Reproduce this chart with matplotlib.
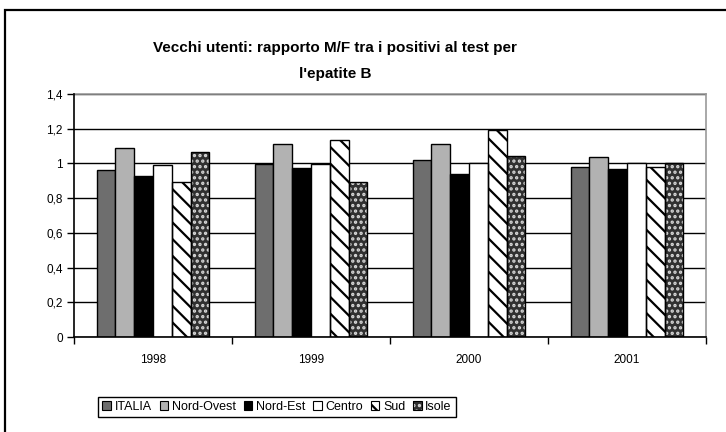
import matplotlib
matplotlib.use("Agg")
import matplotlib.pyplot as plt
import numpy as np
from matplotlib.patches import Rectangle

plt.rcParams['font.family'] = ['Liberation Sans', 'DejaVu Sans']
plt.rcParams['hatch.linewidth'] = 1.6

# Data
years = ['1998', '1999', '2000', '2001']
series = ['ITALIA', 'Nord-Ovest', 'Nord-Est', 'Centro', 'Sud', 'Isole']
italia = [0.96, 0.995, 1.02, 0.98]
nord_ovest = [1.09, 1.11, 1.11, 1.035]
nord_est = [0.93, 0.975, 0.94, 0.97]
centro = [0.99, 0.995, 1.0, 1.0]
sud = [0.895, 1.135, 1.19, 0.98]
isole = [1.065, 0.895, 1.045, 1.0]
values = [italia, nord_ovest, nord_est, centro, sud, isole]

faces = ['#6e6e6e', '#b2b2b2', '#000000', '#ffffff', '#ffffff', '#303030']
hatches = [None, None, None, None, '\\\\', '...']
hatch_cols = [None, None, None, None, 'black', '#d8d8d8']

fig = plt.figure(figsize=(7.26, 4.32), dpi=100)
ax = fig.add_axes([74/726, 1-337/432, 632/726, 243/432])

x = np.arange(len(years))
w = 0.715 / len(series)
handles = []
for i, (name, vals) in enumerate(zip(series, values)):
    pos = x - 0.715/2 + w*(i + 0.5)
    if hatches[i]:
        ax.bar(pos, vals, w, color=faces[i], edgecolor=hatch_cols[i],
               hatch=hatches[i], linewidth=0, zorder=3)
        ax.bar(pos, vals, w, facecolor='none', edgecolor='black',
               linewidth=1, zorder=4)
        h = (Rectangle((0, 0), 1, 1, facecolor=faces[i], edgecolor=hatch_cols[i],
                       hatch=hatches[i], linewidth=0),
             Rectangle((0, 0), 1, 1, facecolor='none', edgecolor='black',
                       linewidth=0.8))
    else:
        ax.bar(pos, vals, w, facecolor=faces[i], edgecolor='black',
               linewidth=1, zorder=4)
        h = Rectangle((0, 0), 1, 1, facecolor=faces[i], edgecolor='black',
                      linewidth=0.8)
    handles.append(h)

ax.set_xlim(-0.5, len(years) - 0.5)
ax.set_ylim(0, 1.4)
yt = np.arange(0, 1.41, 0.2)
ax.set_yticks(yt)
ax.set_yticklabels(['0', '0,2', '0,4', '0,6', '0,8', '1', '1,2', '1,4'], fontsize=8.5)
ax.yaxis.grid(True, color='black', linewidth=1)
ax.set_axisbelow(True)
ax.tick_params(axis='y', direction='out', length=5, width=1, pad=3)

ax.set_xticks(x)
ax.set_xticklabels(years, fontsize=8.5)
ax.tick_params(axis='x', which='major', length=0, pad=12)
ax.set_xticks(np.arange(-0.5, len(years), 1), minor=True)
ax.tick_params(axis='x', which='minor', direction='out', length=5, width=1)

for s in ['left', 'bottom']:
    ax.spines[s].set_linewidth(1.2)
    ax.spines[s].set_zorder(5)
for s in ['top', 'right']:
    ax.spines[s].set_color('#999999')
    ax.spines[s].set_linewidth(1.2)

fig.text(335/726, 1-48/432, 'Vecchi utenti: rapporto M/F tra i positivi al test per',
         ha='center', va='center', fontsize=11, fontweight='bold')
fig.text(335/726, 1-74/432, "l'epatite B",
         ha='center', va='center', fontsize=11, fontweight='bold')

leg = fig.legend(handles, series, loc='center', bbox_to_anchor=(277/726, 1-407/432),
                 ncol=6, fontsize=9, fancybox=False, edgecolor='black',
                 handlelength=0.7, handleheight=0.7, handletextpad=0.3,
                 columnspacing=0.6, borderpad=0.35, framealpha=1)
leg.get_frame().set_linewidth(1)

# outer chart frame (left and top visible)
fig.patches.append(Rectangle((5/726, -0.1), 1.0, 1 - 10/432 + 0.1,
                             transform=fig.transFigure, fill=False,
                             edgecolor='black', linewidth=1.6))

fig.savefig('out.png', dpi=100)
